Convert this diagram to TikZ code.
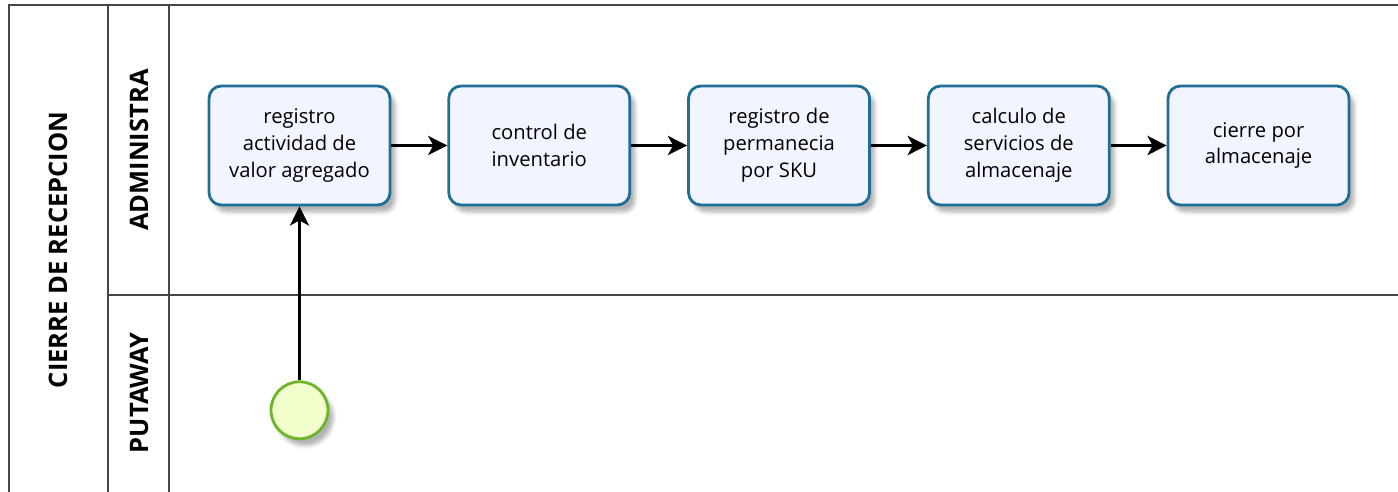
\documentclass[tikz,border=0pt]{standalone}
\usepackage{fontspec}
\setmainfont{Open Sans}
\usetikzlibrary{arrows.meta,positioning,shadows.blur}

\definecolor{taskblue}{RGB}{30,110,150}
\definecolor{taskfill}{RGB}{242,245,255}
\definecolor{startgreen}{RGB}{110,180,40}
\definecolor{startfill}{RGB}{242,255,205}
\definecolor{laneline}{RGB}{70,70,70}

\begin{document}
\begin{tikzpicture}[x=0.02cm,y=-0.02cm,>={Stealth[length=11pt,width=11pt,inset=3pt]}]
    \tikzset{task/.style={draw=taskblue, line width=1.6pt, fill=taskfill, rounded corners=7pt, align=center,
        minimum width=3.62cm, minimum height=2.38cm,
        font=\fontsize{11.5}{15.3}\selectfont,
        blur shadow={shadow xshift=3pt, shadow yshift=-4pt, shadow opacity=30}},
      startev/.style={circle, draw=startgreen, line width=1.6pt, fill=startfill, minimum size=1.14cm, inner sep=0pt,
        blur shadow={shadow xshift=3pt, shadow yshift=-4pt, shadow opacity=30}},
      lanetitle/.style={rotate=90, font=\fontsize{14.5}{17}\selectfont\bfseries},
      flow/.style={draw=black, line width=1.2pt},
    }
    \useasboundingbox (0,0) rectangle (1398,492);

    % pool and lanes
    \draw[laneline, line width=1.2pt] (9,500) -- (9,5) -- (1400,5);
    \draw[laneline, line width=1pt] (108,5) -- (108,500);
    \draw[laneline, line width=1pt] (169,5) -- (169,500);
    \draw[laneline, line width=1pt] (108,295) -- (1400,295);

    \node[lanetitle] at (58,250) (pool) {CIERRE DE RECEPCION};
    \node[lanetitle] at (139,150) (admin) {ADMINISTRA};
    \node[lanetitle] at (139,393) (putaway) {PUTAWAY};

    \node[task] at (299.5,145.5) (regact) {registro\\actividad de\\valor agregado};
    \node[task, right=1.12cm of regact] (ctrlinv) {control de\\inventario};
    \node[task, right=1.12cm of ctrlinv] (regperm) {registro de\\permanecia\\por SKU};
    \node[task, right=1.12cm of regperm] (calcserv) {calculo de\\servicios de\\almacenaje};
    \node[task, right=1.12cm of calcserv] (cierre) {cierre por\\almacenaje};

    \node[startev, below=3.48cm of regact] (inicio) {};

    \path[flow,->] (inicio) edge (regact);
    \path[flow,->] (regact) edge (ctrlinv);
    \path[flow,->] (ctrlinv) edge (regperm);
    \path[flow,->] (regperm) edge (calcserv);
    \path[flow,->] (calcserv) edge (cierre);
  \end{tikzpicture}
\end{document}
